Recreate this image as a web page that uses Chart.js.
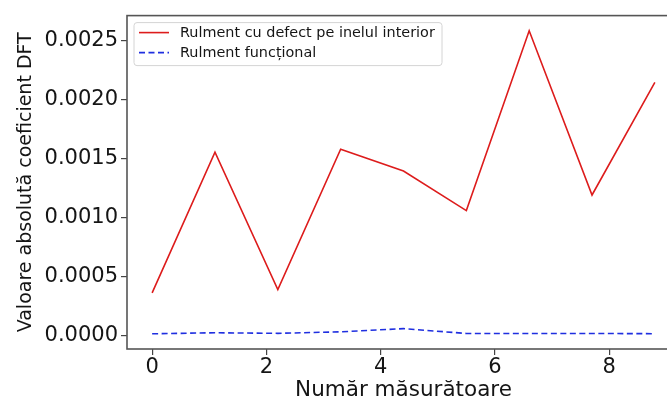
<!DOCTYPE html>
<html>
<head>
<meta charset="utf-8">
<script src="https://cdn.jsdelivr.net/npm/chart.js@4.4.0/dist/chart.umd.min.js"></script>
<style>
    html, body { margin: 0; padding: 0; background: #fff; overflow: hidden; }
    #wrap { width: 700px; height: 397px; }
</style>
</head>
<body>
<div id="wrap"><canvas id="dft-chart" width="700" height="397"></canvas></div>
<script>
// measurement index (x) and |DFT| values for the two bearings
const measurements = [0, 1.1, 2.2, 3.3, 4.4, 5.5, 6.6, 7.7, 8.8];
const innerRaceFault = [0.000359, 0.001554, 0.000386, 0.001579, 0.001394, 0.001058, 0.002585, 0.00119, 0.002147];
const healthyBearing = [0.000011, 0.00002, 0.000015, 0.000028, 0.000055, 0.000014, 0.000014, 0.000014, 0.000012];
const seriesLabels = ["Rulment cu defect pe inelul interior", "Rulment funcțional"];
const xTicks = [0, 2, 4, 6, 8];
const yTicks = [0, 0.0005, 0.001, 0.0015, 0.002, 0.0025];

const FONT = "DejaVu Sans";
const TEXT = "#151515";
const AXIS = "#555";

const toPoints = (ys) => ys.map((y, i) => ({x: measurements[i], y: y}));

// frame around the plot + legend box in the upper left corner
const frameAndLegend = {
    id: 'frameAndLegend',
    afterDraw(chart) {
        const ctx = chart.ctx;
        const a = chart.chartArea;
        ctx.save();
        ctx.strokeStyle = AXIS;
        ctx.lineWidth = 1.6;
        ctx.strokeRect(a.left, a.top, a.right - a.left, a.bottom - a.top);

        const bx = a.left + 7, by = a.top + 7, bw = 308, bh = 43;
        ctx.beginPath();
        ctx.roundRect(bx, by, bw, bh, 3);
        ctx.fillStyle = "rgba(255,255,255,0.8)";
        ctx.fill();
        ctx.strokeStyle = "#d4d4d4";
        ctx.lineWidth = 1;
        ctx.stroke();

        ctx.font = `14.4px "${FONT}"`;
        ctx.textBaseline = "middle";
        chart.data.datasets.forEach((ds, i) => {
            const ry = by + 10 + i * 20;
            ctx.beginPath();
            ctx.setLineDash(ds.borderDash || []);
            ctx.strokeStyle = ds.borderColor;
            ctx.lineWidth = ds.borderWidth;
            ctx.moveTo(bx + 5, ry);
            ctx.lineTo(bx + 35, ry);
            ctx.stroke();
            ctx.setLineDash([]);
            ctx.fillStyle = TEXT;
            ctx.fillText(ds.label, bx + 46, ry + 0.5);
        });
        ctx.restore();
    }
};

new Chart(document.getElementById('dft-chart'), {
    type: 'line',
    data: {
        datasets: [
            {
                label: seriesLabels[0],
                data: toPoints(innerRaceFault),
                borderColor: "#dd1c1c",
                borderWidth: 1.6,
                pointRadius: 0,
                fill: false,
            },
            {
                label: seriesLabels[1],
                data: toPoints(healthyBearing),
                borderColor: "#1f2fe0",
                borderWidth: 1.6,
                borderDash: [6, 3.5],
                pointRadius: 0,
                fill: false,
            }
        ]
    },
    options: {
        responsive: false,
        animation: false,
        layout: { padding: { top: 12, right: 20, left: 0, bottom: 0 } },
        plugins: {
            legend: { display: false },
            tooltip: { enabled: false }
        },
        scales: {
            x: {
                type: 'linear',
                min: -0.44,
                max: 9.24,
                afterBuildTicks: (s) => { s.ticks = xTicks.map(v => ({value: v})); },
                afterFit: (s) => { s.height = 48; },
                border: { display: false },
                grid: { drawOnChartArea: false, tickLength: 6, color: "#444", lineWidth: 1.2 },
                ticks: {
                    font: { family: FONT, size: 21 },
                    color: TEXT,
                    padding: 0,
                    maxRotation: 0,
                    autoSkip: false,
                    callback: (v) => String(v)
                },
                title: {
                    display: true,
                    text: "Număr măsurătoare",
                    color: TEXT,
                    font: { family: FONT, size: 21.5, lineHeight: 0.6 },
                    padding: { top: 0, bottom: 0.5 }
                }
            },
            y: {
                min: -0.000118,
                max: 0.002714,
                afterBuildTicks: (s) => { s.ticks = yTicks.map(v => ({value: v})); },
                afterFit: (s) => { s.width = 127; },
                border: { display: false },
                grid: { drawOnChartArea: false, tickLength: 6, color: "#444", lineWidth: 1.2 },
                ticks: {
                    font: { family: FONT, size: 21 },
                    color: TEXT,
                    padding: 3,
                    callback: (v) => v.toFixed(4)
                },
                title: {
                    display: true,
                    text: "Valoare absolută coeficient DFT",
                    color: TEXT,
                    font: { family: FONT, size: 19 },
                    padding: { top: 14.6, bottom: 0 }
                }
            }
        }
    },
    plugins: [frameAndLegend]
});
</script>
</body>
</html>
